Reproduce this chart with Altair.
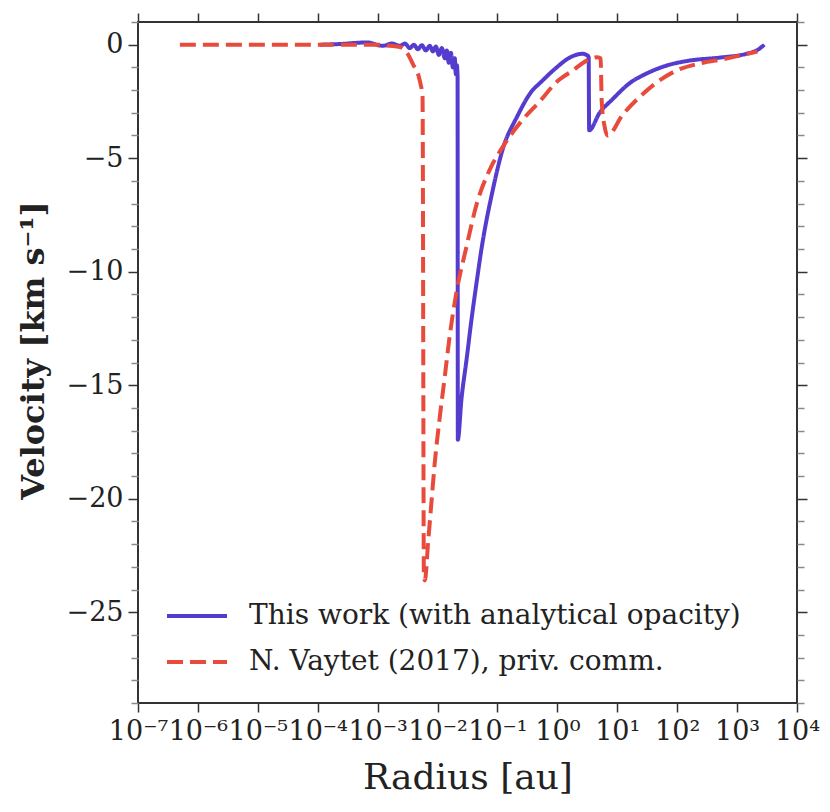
import altair as alt
import pandas as pd

# ---- data ----
blue_r = [1.09e-4, 2.34e-4, 6.6e-4, 1.22e-3, 1.73e-3, 2.36e-3, 2.85e-3, 3.45e-3, 4.03e-3,
          4.70e-3, 5.47e-3, 6.38e-3, 7.44e-3, 8.35e-3, 9.37e-3, 0.0105, 0.0118, 0.01324,
          0.0143, 0.0154, 0.0167, 0.0180, 0.0194, 0.0202, 0.0210, 0.0216, 0.0218, 0.0251,
          0.0304, 0.0369, 0.0447, 0.0541, 0.0835, 0.1225, 0.210, 0.387, 0.507, 0.973, 1.60,
          2.64, 3.20, 3.33, 3.39, 5.07, 8.35, 16.0, 30.8, 66.4, 160, 507, 1430, 2350, 2850]
blue_v = [0, 0.03, 0.1, -0.05, 0.05, -0.05, 0.05, -0.15, 0.0, -0.2, -0.02, -0.25, -0.05,
          -0.3, -0.08, -0.45, -0.15, -0.6, -0.25, -0.8, -0.35, -1.0, -0.6, -1.3, -0.9, -1.4,
          -17.4, -15.6, -13.9, -12.1, -10.5, -9.0, -6.4, -4.6, -3.2, -2.0, -1.7, -1.0, -0.57,
          -0.4, -0.48, -0.55, -3.77, -3.0, -2.4, -1.7, -1.27, -0.92, -0.7, -0.57, -0.4,
          -0.18, 0.0]

red_r = [5e-7, 1e-4, 1e-3, 1.6e-3, 2.35e-3, 3.08e-3, 3.87e-3, 5.07e-3, 5.62e-3, 5.92e-3,
         6.14e-3, 6.97e-3, 7.94e-3, 9.0e-3, 0.0109, 0.01324, 0.0160, 0.0207, 0.0304, 0.0452,
         0.0745, 0.1225, 0.264, 0.507, 1.01, 1.80, 3.08, 4.70, 5.27, 5.5, 6.14, 6.89, 12.2,
         23.6, 45.2, 97.3, 235, 664, 2180]
red_v = [0, 0, 0, -0.05, -0.1, -0.35, -0.85, -1.6, -2.3, -23.5, -23.6, -21.9, -20.1, -18.4,
         -16.4, -14.6, -12.8, -10.9, -8.9, -7.0, -5.5, -4.5, -3.3, -2.5, -1.6, -1.14, -0.7,
         -0.55, -0.6, -2.5, -3.6, -4.0, -3.1, -2.3, -1.67, -1.14, -0.83, -0.61, -0.3]

series_names = ["This work (with analytical opacity)", "N. Vaytet (2017), priv. comm."]
series_colors = ["#553ccf", "#e84b3c"]
series_dash = [[1, 0], [16, 7]]

x_ticks = [1e-7, 1e-6, 1e-5, 1e-4, 1e-3, 1e-2, 1e-1, 1e0, 1e1, 1e2, 1e3, 1e4]
y_major = [-25, -20, -15, -10, -5, 0]
y_minor = [1, -1, -2, -3, -4, -6, -7, -8, -9, -11, -12, -13, -14, -16, -17, -18, -19,
           -21, -22, -23, -24, -26, -27, -28, -29]

df = pd.concat([
    pd.DataFrame({"r": blue_r, "v": blue_v, "series": series_names[0]}),
    pd.DataFrame({"r": red_r, "v": red_v, "series": series_names[1]}),
], ignore_index=True)

FONT = "DejaVu Serif"
DARK = "#333333"
TXT = "#222222"
xscale = alt.Scale(type="log", domain=[1e-7, 1e4], nice=False)
yscale = alt.Scale(domain=[-29, 1], nice=False, zero=False)

label_expr = ("'10' + (datum.value < 1 ? '\u207b' : '') + "
              "['\u2070','\u00b9','\u00b2','\u00b3','\u2074','\u2075','\u2076','\u2077','\u2078','\u2079']"
              "[abs(round(log(datum.value) / LN10))]")

legend = alt.Legend(orient="none", legendX=27, legendY=562, title=None,
                    labelFont=FONT, labelFontSize=28, labelColor=TXT,
                    symbolType="stroke", symbolSize=3600, symbolStrokeWidth=4,
                    labelOffset=20, rowPadding=-9, labelLimit=700)

base = alt.Chart(df)

main = base.mark_line(strokeWidth=4, interpolate="monotone").encode(
    x=alt.X("r:Q", scale=xscale,
            axis=alt.Axis(orient="bottom", values=x_ticks, labelExpr=label_expr,
                          title="Radius [au]", titleFontSize=36, titleFontWeight="normal",
                          titlePadding=16, labelFontSize=27, labelPadding=6,
                          tickSize=9, labelFlush=False, labelOverlap=False,
                          labelColor=TXT, titleColor=TXT)),
    y=alt.Y("v:Q", scale=yscale,
            axis=alt.Axis(orient="left", values=y_major, title="Velocity [km s\u207b\u00b9]",
                          titleFontSize=32, titleFontWeight="bold",
                          titleX=-105, titleY=328, titleAngle=270, titleAlign="center",
                          titleBaseline="middle",
                          labelFontSize=27, labelPadding=5, tickSize=10,
                          labelColor=TXT, titleColor=TXT)),
    color=alt.Color("series:N", scale=alt.Scale(domain=series_names, range=series_colors),
                    legend=legend),
    strokeDash=alt.StrokeDash("series:N",
                              scale=alt.Scale(domain=series_names, range=series_dash),
                              legend=legend),
)

top = base.mark_line(opacity=0).encode(
    x=alt.X("r:Q", scale=xscale,
            axis=alt.Axis(orient="top", values=x_ticks, labels=False, title=None, tickSize=9)),
    y=alt.Y("v:Q", scale=yscale,
            axis=alt.Axis(orient="right", values=y_major, labels=False, title=None, tickSize=10)),
)

left_minor = base.mark_line(opacity=0).encode(
    x=alt.X("r:Q", scale=xscale, axis=None),
    y=alt.Y("v:Q", scale=yscale,
            axis=alt.Axis(orient="left", values=y_minor, labels=False, title=None,
                          tickSize=7, tickColor="#8a8a8a")),
)

right_minor = base.mark_line(opacity=0).encode(
    x=alt.X("r:Q", scale=xscale, axis=None),
    y=alt.Y("v:Q", scale=yscale,
            axis=alt.Axis(orient="right", values=y_minor, labels=False, title=None,
                          tickSize=7, tickColor="#8a8a8a")),
)

chart = alt.layer(main, top, left_minor, right_minor).properties(
    width=659, height=681,
    autosize=alt.AutoSizeParams(type="none"),
    padding={"left": 130, "top": 14, "right": 24, "bottom": 100},
).configure_view(
    stroke=DARK, strokeWidth=2
).configure_axis(
    grid=False, domain=False, labelFont=FONT, titleFont=FONT,
    tickColor=DARK, tickWidth=1.5
)

chart.save("out.html", embed_options={"renderer": "svg", "actions": False})
